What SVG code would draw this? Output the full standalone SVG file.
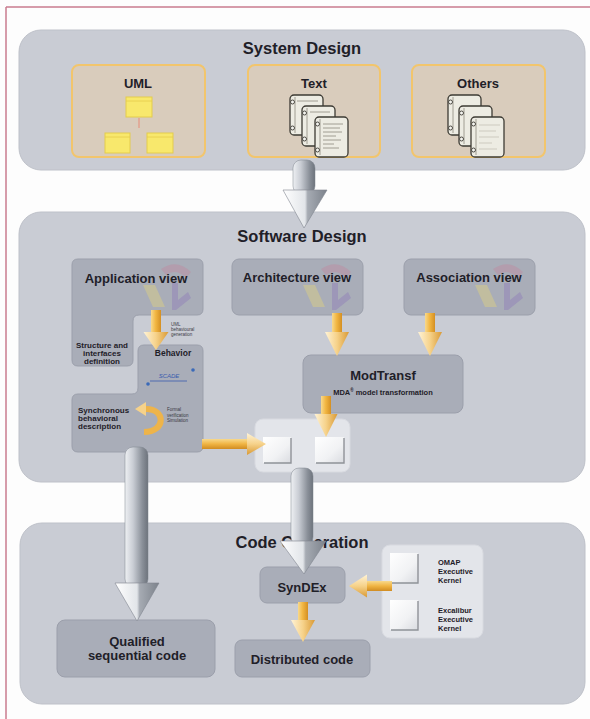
<svg xmlns="http://www.w3.org/2000/svg" width="590" height="719" viewBox="0 0 590 719">
<defs>
<style>
.t{font-family:"Liberation Sans",Arial,sans-serif;font-weight:bold;fill:#1f2028}
.h{font-size:16.5px;text-anchor:middle}
.l{font-size:13px;text-anchor:middle}
.s{font-size:8px}
.m{text-anchor:middle}
.xs{font-size:4.5px;font-weight:normal;fill:#3a3a44}
.panel{fill:#c9ccd4;stroke:#bec1c9;stroke-width:1}
.box{fill:#a9adb8;stroke:#9b9fab;stroke-width:1}
.src{fill:#d9ccbc;stroke:#f2c56c;stroke-width:2}
.light{fill:#e3e5ea;stroke:#d8dae0;stroke-width:1}
.page{fill:#edece3;stroke:#3d3b34;stroke-width:1.3}
.ring{fill:#f5f5f0;stroke:#3d3b34;stroke-width:0.9}
.tl{stroke:#8e8c7e;stroke-width:0.8}
.tl2{stroke:#b9b7aa;stroke-width:0.6}
.uml{fill:#f8e86c;stroke:#e4cc4c;stroke-width:1}
.doc{fill:url(#docg)}
.dedge{fill:none;stroke:#8f9298;stroke-width:1.4}
.gs{fill:url(#gShaft);stroke:#7f858e;stroke-width:0.5}
.gh{fill:url(#gHead);stroke:#7f858e;stroke-width:0.6}
.ys{fill:url(#yS)}
.yh{fill:url(#yH)}
.ys2{fill:url(#yS2)}
.yh2{fill:url(#yH2)}
</style>
<linearGradient id="gShaft" x1="0" y1="0" x2="1" y2="0">
<stop offset="0" stop-color="#eef0f3"/><stop offset="0.35" stop-color="#c9cdd4"/><stop offset="0.75" stop-color="#8a9099"/><stop offset="1" stop-color="#6d737c"/>
</linearGradient>
<linearGradient id="gHead" x1="0" y1="0" x2="1" y2="0">
<stop offset="0" stop-color="#ffffff"/><stop offset="0.5" stop-color="#e2e5e9"/><stop offset="0.56" stop-color="#a6abb3"/><stop offset="1" stop-color="#7c828b"/>
</linearGradient>
<linearGradient id="yS" x1="0" y1="0" x2="1" y2="0">
<stop offset="0" stop-color="#f8d98c"/><stop offset="0.45" stop-color="#f2b744"/><stop offset="1" stop-color="#d48f22"/>
</linearGradient>
<linearGradient id="yH" x1="0" y1="0" x2="1" y2="0">
<stop offset="0" stop-color="#fff3d6"/><stop offset="0.5" stop-color="#f6d28a"/><stop offset="1" stop-color="#d99a36"/>
</linearGradient>
<linearGradient id="yS2" x1="0" y1="0" x2="0" y2="1">
<stop offset="0" stop-color="#f8d98c"/><stop offset="0.5" stop-color="#f0b443"/><stop offset="1" stop-color="#d08c22"/>
</linearGradient>
<linearGradient id="yH2" x1="0" y1="0" x2="0" y2="1">
<stop offset="0" stop-color="#fff3d6"/><stop offset="0.5" stop-color="#f6d28a"/><stop offset="1" stop-color="#d99a36"/>
</linearGradient>
<linearGradient id="docg" x1="0" y1="0" x2="1" y2="1">
<stop offset="0" stop-color="#ffffff"/><stop offset="0.6" stop-color="#f1f2f4"/><stop offset="1" stop-color="#d9dbe0"/>
</linearGradient>
<g id="logo" opacity="0.38">
<path d="M-42,10 Q-26,-1 -12,13 L-17,19 Q-27,9 -37,16 Z" fill="#c4849c"/>
<path d="M-60,26 L-48,26 L-38,48 L-50,48 Z" fill="#e8d878"/>
<path d="M-31,24 L-25,24 L-25,41 L-15,33 L-12,39 L-27,51 L-31,51 Z" fill="#8a74b8"/>
</g>
<g id="pg">
<rect x="0" y="0" width="33" height="40" rx="4" class="page"/>
<line x1="5" y1="2" x2="5" y2="38" class="tl"/>
<circle cx="2.5" cy="7" r="2" class="ring"/>
<circle cx="2.5" cy="33" r="2" class="ring"/>
</g>
</defs>

<rect x="0" y="0" width="590" height="719" fill="#fdfdfd"/>
<path d="M6,7 H590 M6,7 V719" fill="none" stroke="#c97c8f" stroke-width="1.5"/>

<g id="system-design">
<rect x="19" y="30" width="566" height="140" rx="22" class="panel"/>
<text x="302" y="54" class="t h">System Design</text>
</g>

<g id="uml">
<rect x="72" y="65" width="133" height="92" rx="7" class="src"/>
<text x="138" y="88" class="t l">UML</text>
<rect x="126" y="97" width="26" height="20" class="uml"/>
<line x1="126" y1="101" x2="152" y2="101" stroke="#e4cc4c" stroke-width="0.8"/>
<rect x="105" y="133" width="25" height="20" class="uml"/>
<line x1="105" y1="137" x2="130" y2="137" stroke="#e4cc4c" stroke-width="0.8"/>
<rect x="147" y="133" width="26" height="20" class="uml"/>
<line x1="147" y1="137" x2="173" y2="137" stroke="#e4cc4c" stroke-width="0.8"/>
<path d="M139,118 V128" stroke="#e7907c" stroke-width="1.5" opacity="0.7"/>
</g>

<g id="text">
<rect x="248" y="65" width="132" height="92" rx="7" class="src"/>
<text x="314" y="88" class="t l">Text</text>
<use href="#pg" x="290" y="95"/>
<use href="#pg" x="302" y="106"/>
<use href="#pg" x="315" y="117"/>
<g class="tl">
<line x1="323" y1="124" x2="343" y2="124"/><line x1="323" y1="128" x2="340" y2="128"/>
<line x1="323" y1="132" x2="342" y2="132"/><line x1="323" y1="136" x2="336" y2="136"/>
<line x1="323" y1="140" x2="341" y2="140"/><line x1="323" y1="144" x2="334" y2="144"/>
<line x1="323" y1="148" x2="339" y2="148"/>
<line x1="310" y1="112" x2="330" y2="112"/><line x1="297" y1="101" x2="318" y2="101"/>
</g>
</g>

<g id="others">
<rect x="412" y="65" width="133" height="92" rx="7" class="src"/>
<text x="478" y="88" class="t l">Others</text>
<use href="#pg" x="448" y="95"/>
<use href="#pg" x="459" y="106"/>
<use href="#pg" x="471" y="117"/>
<g class="tl2">
<line x1="479" y1="125" x2="500" y2="125"/><line x1="479" y1="131" x2="496" y2="131"/>
<line x1="479" y1="137" x2="499" y2="137"/><line x1="479" y1="143" x2="492" y2="143"/>
<line x1="479" y1="149" x2="497" y2="149"/>
</g>
</g>

<g id="software-design">
<rect x="19" y="212" width="566" height="270" rx="22" class="panel"/>
<text x="302" y="242" class="t h">Software Design</text>
</g>

<g id="application-view">
<path d="M78,259 H197 Q203,259 203,265 V309 Q203,315 197,315 H139 Q133,315 133,321 V360 Q133,366 127,366 H78 Q72,366 72,360 V265 Q72,259 78,259 Z" class="box"/>
<use href="#logo" x="203" y="259"/>
<text x="136" y="283" class="t l">Application view</text>
<text class="t s m"><tspan x="102" y="348">Structure and</tspan><tspan x="102" y="356">interfaces</tspan><tspan x="102" y="364">definition</tspan></text>
</g>

<g id="behavior">
<path d="M144,345 H197 Q203,345 203,351 V446 Q203,452 197,452 H78 Q72,452 72,446 V400 Q72,394 78,394 H132 Q138,394 138,388 V351 Q138,345 144,345 Z" class="box"/>
<text class="t xs"><tspan x="171" y="326">UML</tspan><tspan x="171" y="331">behavioural</tspan><tspan x="171" y="336">generation</tspan></text>
<text x="173" y="356" class="t m" font-size="8.5">Behavior</text>
<text x="169" y="378" class="m" font-family="Liberation Sans, Arial, sans-serif" font-style="italic" font-size="6" fill="#3a5cae">SCADE</text>
<line x1="150" y1="381" x2="187" y2="381" stroke="#3a5cae" stroke-width="0.8"/>
<circle cx="193" cy="370" r="1.8" fill="#3a6ab8"/>
<circle cx="148" cy="384" r="1.8" fill="#3a6ab8"/>
<text class="t s"><tspan x="78" y="413">Synchronous</tspan><tspan x="78" y="421">behavioral</tspan><tspan x="78" y="429">description</tspan></text>
<text class="t xs"><tspan x="167" y="411">Formal</tspan><tspan x="167" y="416.5">verification</tspan><tspan x="167" y="422">Simulation</tspan></text>
<path d="M144,432 C166,432 166,409 146,409" fill="none" stroke="#eeb44a" stroke-width="6"/>
<polygon points="146,402 146,416 135,409" fill="#f6d28a"/>
</g>

<g id="architecture-view">
<rect x="232" y="259" width="131" height="56" rx="7" class="box"/>
<use href="#logo" x="363" y="259"/>
<text x="297" y="282" class="t l">Architecture view</text>
</g>

<g id="association-view">
<rect x="404" y="259" width="131" height="56" rx="7" class="box"/>
<use href="#logo" x="535" y="259"/>
<text x="469" y="282" class="t l">Association view</text>
</g>

<g id="modtransf">
<rect x="303" y="355" width="160" height="58" rx="8" class="box"/>
<text x="383" y="380" class="t l">ModTransf</text>
<text x="383" y="395" class="t m" font-size="7.5">MDA<tspan font-size="4.5" dy="-3">®</tspan><tspan dy="3"> model transformation</tspan></text>
</g>

<g id="models">
<rect x="255" y="419" width="95" height="53" rx="8" class="light"/>
<rect x="263" y="437" width="28" height="26" class="doc"/>
<path d="M291,438 V463 H264" class="dedge"/>
<rect x="315" y="437" width="29" height="26" class="doc"/>
<path d="M344,438 V463 H316" class="dedge"/>
</g>

<g id="code-generation">
<rect x="20" y="523" width="565" height="181" rx="22" class="panel"/>
<text x="302" y="548" class="t h">Code Generation</text>
</g>

<g id="syndex">
<rect x="260" y="567" width="85" height="36" rx="7" class="box"/>
<text x="302" y="592" class="t l">SynDEx</text>
</g>

<g id="kernels">
<rect x="382" y="545" width="101" height="93" rx="8" class="light"/>
<rect x="390" y="553" width="28" height="30" class="doc"/>
<path d="M418,554 V583 H391" class="dedge"/>
<rect x="390" y="600" width="28" height="30" class="doc"/>
<path d="M418,601 V630 H391" class="dedge"/>
<text class="t" font-size="7.5"><tspan x="438" y="565">OMAP</tspan><tspan x="438" y="574">Executive</tspan><tspan x="438" y="583">Kernel</tspan></text>
<text class="t" font-size="7.5"><tspan x="438" y="613">Excalibur</tspan><tspan x="438" y="622">Executive</tspan><tspan x="438" y="631">Kernel</tspan></text>
</g>

<g id="qualified-code">
<rect x="57" y="620" width="158" height="57" rx="8" class="box"/>
<text class="t l"><tspan x="137" y="646">Qualified</tspan><tspan x="137" y="660">sequential code</tspan></text>
</g>

<g id="distributed-code">
<rect x="235" y="640" width="135" height="37" rx="7" class="box"/>
<text x="302" y="664" class="t l">Distributed code</text>
</g>

<g id="connectors">
<rect x="293" y="160" width="22" height="34" rx="8" class="gs"/>
<polygon points="283,190 327,190 304,228" class="gh"/>
<rect x="125" y="447" width="23" height="140" rx="8" class="gs"/>
<polygon points="115,583 159,583 137,621" class="gh"/>
<rect x="291" y="468" width="22" height="77" rx="8" class="gs"/>
<polygon points="280,541 326,541 304,574" class="gh"/>
<rect x="151" y="310" width="10" height="23" class="ys"/>
<polygon points="143.5,332 168.5,332 156,350" class="yh"/>
<rect x="332" y="313" width="10" height="20" class="ys"/>
<polygon points="325,332 349,332 337,356" class="yh"/>
<rect x="425" y="313" width="10" height="20" class="ys"/>
<polygon points="418,332 442,332 430,356" class="yh"/>
<rect x="321" y="396" width="10" height="19" class="ys"/>
<polygon points="314.5,414 337.5,414 326,437" class="yh"/>
<rect x="202" y="439" width="46" height="10" class="ys2"/>
<polygon points="247,433 247,455 266,444" class="yh2"/>
<rect x="366" y="581" width="26" height="10" class="ys2"/>
<polygon points="367,574.5 367,597.5 349,586" class="yh2"/>
<rect x="298" y="602" width="10" height="19" class="ys"/>
<polygon points="291,620 315,620 303,642" class="yh"/>
</g>
</svg>
